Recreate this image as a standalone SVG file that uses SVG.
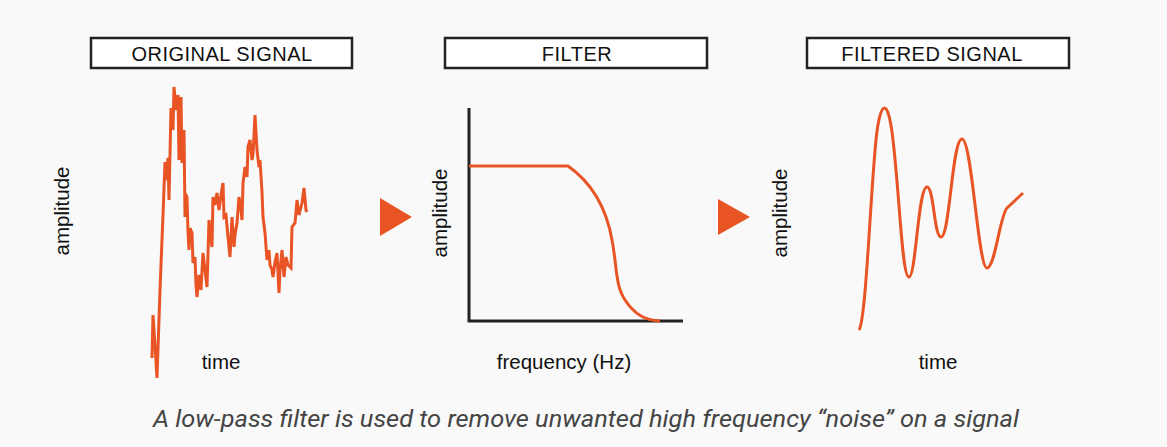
<svg xmlns="http://www.w3.org/2000/svg" width="1167" height="447" viewBox="0 0 1167 447">
<style>
.bg{fill:#f9f9f9}
.title{fill:#fff;stroke:#222;stroke-width:2.5}
.tt{font-family:"Liberation Sans",Arial,sans-serif;font-size:20px;letter-spacing:0.5px;fill:#111;text-anchor:middle}
.lbl{font-family:"Liberation Sans",Arial,sans-serif;font-size:20.5px;fill:#111;text-anchor:middle}
.sig{fill:none;stroke:#E95425;stroke-width:3}
.axis{fill:none;stroke:#222;stroke-width:3}
.arrow{fill:#E95425}
.cap{font-family:Roboto,"Liberation Sans",sans-serif;font-style:italic;font-size:24px;fill:#444}
</style>
<rect class="bg" x="0" y="0" width="1167" height="447"/>
<g id="original">
<rect class="title" x="91" y="38" width="261" height="30"/>
<text class="tt" x="222" y="61">ORIGINAL SIGNAL</text>
<text class="lbl" transform="translate(69,211) rotate(-90)">amplitude</text>
<text class="lbl" x="221" y="369">time</text>
<polyline class="sig" points="152,358 153,315 155,345 157,378 160,290 163,215 165,162 166,180 168,158 169,200 171,108 172,125 173,130 174,87 176,110 178,95 179,160 181,97 182,163 184,130 185,217 186,195 187,197 188,232 189,250 190,228 192,233 193,263 195,257 196,285 197,297 199,275 200,280 201,290 203,253 205,270 207,287 209,220 211,240 212,247 213,197 215,205 217,193 219,210 221,195 223,183 224,217 226,215 228,237 230,257 232,217 234,247 235,235 237,223 239,197 241,210 242,220 243,183 245,167 247,177 248,147 250,140 252,160 253,155 255,115 257,150 259,167 260,160 262,192 263,217 265,233 267,260 269,250 270,265 272,270 273,277 275,262 277,253 279,293 280,270 282,250 284,277 286,257 288,265 291,268 292,227 295,223 296,212 297,200 299,215 302,203 304,188 306,210 307,212"/>
</g>
<g id="filter">
<rect class="title" x="445" y="38" width="262" height="30"/>
<text class="tt" x="577" y="61">FILTER</text>
<text class="lbl" transform="translate(447,213) rotate(-90)">amplitude</text>
<text class="lbl" x="564" y="369">frequency (Hz)</text>
<polyline class="axis" points="469,108 469,321 683,321"/>
<path class="sig" d="M469,166 H568 C585,178 605,200 612,240 C617,265 615,285 625,300 C635,315 645,320 660,321"/>
</g>
<g id="filtered">
<rect class="title" x="807" y="38" width="262" height="30"/>
<text class="tt" x="932" y="61">FILTERED SIGNAL</text>
<text class="lbl" transform="translate(787,213) rotate(-90)">amplitude</text>
<text class="lbl" x="938" y="369">time</text>
<path class="sig" d="M859,330 C866,320 870,200 876,140 C880,100 888,95 893,140 C900,200 902,277 909,277 C916,277 918,187 927,187 C934,187 934,237 941,237 C950,237 952,139 962,139 C972,139 978,268 987,268 C995,268 1000,215 1007,208 L1023,193"/>
</g>
<g id="connectors">
<polygon class="arrow" points="380,198 412,217 380,236"/>
<polygon class="arrow" points="718,199 750,217 718,235"/>
</g>
<text class="cap" x="153" y="427" textLength="866" lengthAdjust="spacingAndGlyphs">A low-pass filter is used to remove unwanted high frequency “noise” on a signal</text>
</svg>
